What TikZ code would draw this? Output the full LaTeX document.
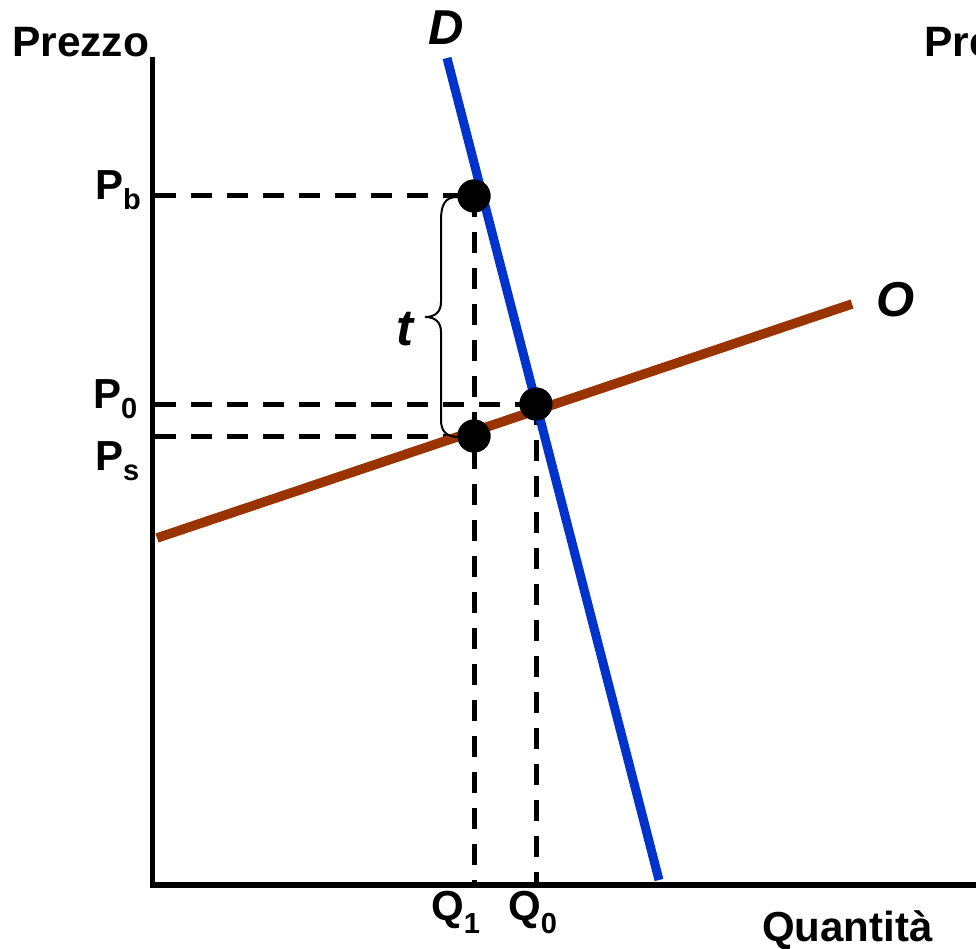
\documentclass[tikz,border=0pt]{standalone}
\usepackage{fontspec}
\setmainfont{Liberation Sans}
\definecolor{dblue}{RGB}{0,51,204}
\definecolor{obrown}{RGB}{153,51,0}
\newcommand\lblsub[3]{#1\raisebox{#3}{\fontsize{29}{29}\selectfont #2}}
\begin{document}
\begin{tikzpicture}[x=1pt,y=-1pt,
  axisline/.style={line width=5.5pt, line join=miter},
  guide/.style={line width=5pt, dash pattern=on 21pt off 15pt},
  dotnode/.style={circle, fill=black, minimum size=33pt, inner sep=0pt},
  lab/.style={font=\fontsize{42}{42}\selectfont\bfseries, inner sep=0pt, anchor=base west},
  curvelab/.style={font=\fontsize{49}{49}\selectfont\bfseries\itshape, inner sep=0pt, anchor=center}]
\useasboundingbox (0,0) rectangle (976,949);
\clip (0,0) rectangle (976,949);
% coordinates
\coordinate (ytop) at (152.5,57);
\coordinate (xend) at (985,885);
\coordinate (aPb) at (155,196);
\coordinate (aP0) at (155,404);
\coordinate (aPs) at (155,436);
\coordinate (aQ1) at (474,883);
\coordinate (aQ0) at (536,883);
\coordinate (dtop) at (447,58);
\coordinate (dbot) at (659,880);
\coordinate (oleft) at (157,538);
\coordinate (oright) at (852,304);
% dots (drawn later on top)
\node[dotnode] (pb) at (474,196) {};
\node[dotnode] (e) at (536,404) {};
\node[dotnode] (ps) at (474,436) {};
% axes
\draw[axisline] (ytop) |- (xend);
% guides
\draw[guide] (aPb) -- (pb.center);
\draw[guide] (aP0) -- (e.center);
\draw[guide] (aPs) -- (ps.center);
\draw[guide] (pb.center) -- (aQ1);
\draw[guide] (e.center) -- (aQ0);
% curves
\draw[obrown, line width=9.5pt] (oleft) -- (oright);
\draw[dblue, line width=9pt] (dtop) -- (dbot);
% dots on top
\node[dotnode] at (pb) {};
\node[dotnode] at (e) {};
\node[dotnode] at (ps) {};
% brace
\draw[line width=2pt] (457,197) .. controls (445,197) and (441,205) .. (441,220) -- (441,302)
  .. controls (441,312) and (435,317) .. (425,317)
  .. controls (435,317) and (441,322) .. (441,332) -- (441,420)
  .. controls (441,432) and (447,437) .. (459,437);
% labels
\node[lab, font=\fontsize{42.5}{42.5}\selectfont\bfseries] (prezzo) at (12,57) {Prezzo};
\node[lab, font=\fontsize{42.5}{42.5}\selectfont\bfseries] (prezzo2) at (924,57) {Prezzo};
\node[curvelab] (dlab) at (446.5,27.5) {D};
\node[curvelab] (olab) at (896,300) {O};
\node[curvelab, font=\fontsize{51}{51}\selectfont\bfseries\itshape] (tlab) at (405,329) {t};
\node[lab] (pblab) at (95,200) {\lblsub{P}{b}{-10pt}};
\node[lab] (p0lab) at (93,408) {\lblsub{P}{0}{-10pt}};
\node[lab] (pslab) at (95,470) {\lblsub{P}{s}{-10pt}};
\node[lab] (q1lab) at (431,920) {\lblsub{Q}{1}{-13pt}};
\node[lab] (q0lab) at (508,920) {\lblsub{Q}{0}{-13pt}};
\node[lab] (qlab) at (762,941) {Quantità};
\node[lab] (r1) at (974,360) {P};
\node[lab] (r2) at (974,425) {P};
\node[lab] (r3) at (974,680) {P};
\end{tikzpicture}
\end{document}
